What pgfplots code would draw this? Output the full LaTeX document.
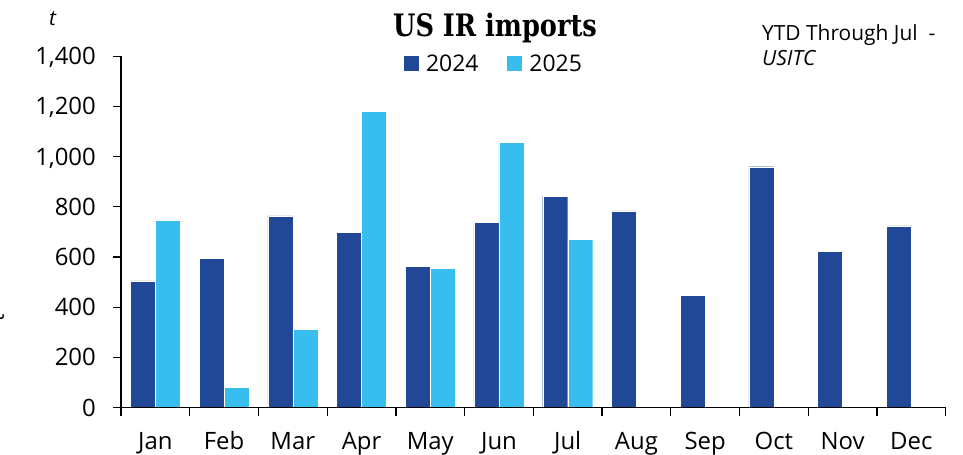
\documentclass[border=0pt]{standalone}
\usepackage{pgfplots}
\pgfplotsset{compat=1.18}
\usepackage{fontspec}
\setmainfont{Open Sans}
\newfontfamily\titlefont[FakeStretch=0.83]{DejaVu Serif}
\definecolor{dkblue}{HTML}{214896}
\definecolor{ltblue}{HTML}{38BEEE}
\begin{document}
\begin{tikzpicture}
\begin{axis}[
  at={(121bp,-407.6bp)}, anchor=south west,
  scale only axis, width=824.7bp, height=351.3bp,
  xmin=-0.5, xmax=11.5, ymin=0, ymax=1400,
  axis on top,
  axis x line*=bottom, axis y line*=left,
  axis line style={line width=1.2bp, black, -},
  tick align=outside, major tick length=8bp,
  tick style={line width=1.2bp, black},
  ytick={0,200,...,1400},
  /pgf/number format/.cd, 1000 sep={,}, assume math mode=true, /pgfplots/.cd,
  yticklabel style={font=\fontsize{24}{24}\selectfont, anchor=base east, inner sep=0pt, xshift=-17bp, yshift=-8.5bp},
  xtick={-0.5,0.5,...,11.5}, xticklabels={},
  extra x ticks={0,1,...,11},
  extra x tick labels={Jan,Feb,Mar,Apr,May,Jun,Jul,Aug,Sep,Oct,Nov,Dec},
  extra x tick style={major tick length=0pt},
  xticklabel style={font=\fontsize{24}{24}\selectfont, anchor=base, inner sep=0pt, yshift=-42bp},
  legend columns=2,
  legend style={at={(rel axis cs:0.451,0.978)}, anchor=center, draw=none, fill=none,
    font=\fontsize{23}{23}\selectfont, nodes={inner sep=0pt},
    /tikz/every odd column/.append style={column sep=7bp},
    /tikz/every even column/.append style={column sep=29bp}},
  legend image code/.code={\fill[#1,draw=none] (0bp,-7bp) rectangle (15bp,8bp);},
  clip=false,
]
\addplot[ybar, bar width=25bp, bar shift=-12.5bp, fill=dkblue, draw=white, line width=0.3bp]
  coordinates {(0,505) (1,594) (2,764) (3,698) (4,562) (5,739) (6,843) (7,784) (8,448) (9,960) (10,622) (11,724)};
\addlegendentry{2024}
\addplot[ybar, bar width=25bp, bar shift=12.5bp, fill=ltblue, draw=white, line width=0.3bp]
  coordinates {(0,748) (1,82) (2,312) (3,1182) (4,554) (5,1057) (6,670)};
\addlegendentry{2025}
\end{axis}
\node[anchor=base, font=\titlefont\bfseries\fontsize{31}{31}\selectfont] at (495bp,-36.7bp) {US IR imports};
\node[anchor=base west, inner sep=0pt, font=\fontsize{21}{21}\selectfont] at (762bp,-40bp) {YTD Through Jul\ \ -};
\node[anchor=base west, inner sep=0pt, font=\itshape\fontsize{21}{21}\selectfont] at (762bp,-65.5bp) {USITC};
\node[anchor=base west, inner sep=0pt, font=\itshape\fontsize{21}{21}\selectfont] at (49bp,-25bp) {t};
\node[rotate=90, inner sep=0pt, font=\fontsize{21}{21}\selectfont] at (-3bp,-318bp) {t};
\pgfresetboundingbox
\useasboundingbox (0,0) rectangle (963bp,-455bp);
\end{tikzpicture}
\end{document}
